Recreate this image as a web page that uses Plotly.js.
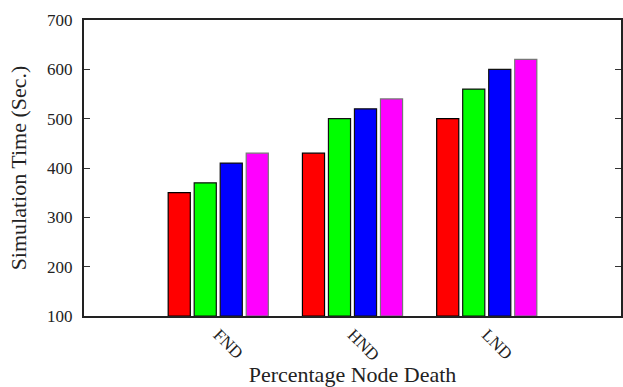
<!DOCTYPE html>
<html>
<head>
<meta charset="utf-8">
<script src="https://cdn.plot.ly/plotly-3.0.1.min.js"></script>
<style>html,body{margin:0;padding:0;background:#fff;}#chart{width:623px;height:387px;}</style>
</head>
<body>
<div id="chart"></div>
<script>
const categories = ["FND", "HND", "LND"];
const series1 = [350, 430, 500];
const series2 = [370, 500, 560];
const series3 = [410, 520, 600];
const series4 = [430, 540, 620];
const baseValue = 100;
const colors = ["#ff0000", "#00ff00", "#0000ff", "#ff00ff"];
const lineColors = ["#000000", "#111111", "#111111", "#777777"];
const allSeries = [series1, series2, series3, series4];

const traces = allSeries.map((vals, i) => ({
  type: "bar",
  x: categories,
  y: vals.map(v => v - baseValue),
  base: baseValue,
  marker: {color: colors[i], line: {color: lineColors[i], width: 1.2}},
  showlegend: false
}));

const fam = "Liberation Serif, Times New Roman, serif";
const font = {family: fam, color: "#222"};

const layout = {
  width: 623, height: 387,
  margin: {l: 84, r: 2, t: 20, b: 71},
  paper_bgcolor: "#fff", plot_bgcolor: "#fff",
  barmode: "group", bargap: 0.225, bargroupgap: 0.15,
  font: font,
  xaxis: {
    type: "category",
    range: [-1, 3],
    showline: true, mirror: true, linecolor: "#222", linewidth: 2,
    ticks: "", showgrid: false, zeroline: false,
    tickangle: 45,
    tickfont: {family: fam, size: 17, color: "#222"},
    title: {text: "Percentage Node Death", font: {family: fam, size: 22, color: "#222"}, standoff: 12}
  },
  yaxis: {
    range: [100, 700], dtick: 100, tick0: 100,
    showline: true, mirror: "ticks", linecolor: "#222", linewidth: 2,
    ticks: "inside", ticklen: 6, tickcolor: "#333", tickwidth: 1,
    showgrid: false, zeroline: false,
    ticklabelstandoff: 6,
    tickfont: {family: fam, size: 17, color: "#222"},
    title: {text: "Simulation Time (Sec.)", font: {family: fam, size: 22, color: "#222"}, standoff: 14}
  }
};

Plotly.newPlot("chart", traces, layout, {staticPlot: true, displayModeBar: false});
</script>
</body>
</html>
